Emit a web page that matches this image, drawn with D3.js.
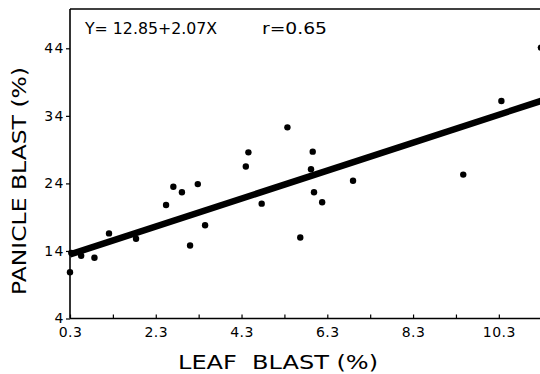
<!DOCTYPE html>
<html>
<head>
<meta charset="utf-8">
<script src="https://cdn.jsdelivr.net/npm/d3@7"></script>
<style>
  body { margin: 0; background: #fff; }
  svg { display: block; }
  text { font-family: "DejaVu Sans", "Liberation Sans", sans-serif; fill: #000; }
</style>
</head>
<body>
<div id="chart"></div>
<script>
// leaf blast (%) vs panicle blast (%)
var leafBlast    = [0.30, 0.33, 0.56, 0.87, 1.21, 1.84, 2.54, 2.71, 2.91, 3.10, 3.28, 3.45, 4.40,
                    4.46, 4.77, 5.37, 5.67, 5.92, 5.96, 5.99, 6.18, 6.90, 9.47, 10.36, 11.28];
var panicleBlast = [10.85, 13.7, 13.3, 13.0, 16.6, 15.8, 20.8, 23.5, 22.7, 14.8, 23.9, 17.8, 26.5,
                    28.6, 21.0, 32.3, 16.0, 26.1, 28.7, 22.7, 21.2, 24.4, 25.3, 36.2, 44.1];

var xTickLabels = ["0.3", "2.3", "4.3", "6.3", "8.3", "10.3"];
var xMinorTicks = [1.3, 3.3, 5.3, 7.3, 9.3, 11.3];
var yTickLabels = ["4", "14", "24", "34", "44"];

// regression Y = a + bX
var intercept = 12.85, slope = 2.07;
var equationText = "Y= 12.85+2.07X";
var rText = "r=0.65";

var width = 540, height = 374;

var svg = d3.select("#chart")
  .append("svg")
  .attr("width", width)
  .attr("height", height);

var x = d3.scaleLinear().domain([0.3, 11.26]).range([70, 540]);
var y = d3.scaleLinear().domain([4, 44]).range([318.5, 48.3]);

var xLeft = x(0.3), yBottom = y(4), yTop = 9;

// clip for the plot area
svg.append("clipPath").attr("id", "plotclip")
  .append("rect")
  .attr("x", xLeft).attr("y", yTop)
  .attr("width", width - xLeft).attr("height", yBottom - yTop);

// bottom axis: ticks point up (inside), labels every 2 units
var xAxis = d3.axisBottom(x)
  .tickValues(xTickLabels.map(Number).concat(xMinorTicks))
  .tickSize(-4)
  .tickFormat(d => xTickLabels.indexOf(String(d)) >= 0 ? String(d) : "");

var gx = svg.append("g")
  .attr("transform", `translate(0, ${yBottom})`)
  .call(xAxis);
gx.select(".domain").attr("stroke-width", 1.6).attr("d", `M${xLeft},0H${width}`);
gx.selectAll(".tick line").attr("stroke-width", 1.2);
gx.selectAll(".tick text")
  .attr("y", 6)
  .attr("dy", "0.9em")
  .style("font-size", "14px")
  .style("letter-spacing", "0.5px");

// left axis: ticks point out
var yAxis = d3.axisLeft(y)
  .tickValues(yTickLabels.map(Number))
  .tickSize(4)
  .tickFormat(d => String(d));

var gy = svg.append("g")
  .attr("transform", `translate(${xLeft}, 0)`)
  .call(yAxis);
gy.select(".domain").attr("stroke-width", 1.6).attr("d", `M0,${yTop}V${yBottom}`);
gy.selectAll(".tick line").attr("stroke-width", 1.2);
gy.selectAll(".tick text")
  .attr("x", -5)
  .style("font-size", "14px")
  .style("letter-spacing", "1.5px");

// top frame line
svg.append("line")
  .attr("x1", xLeft).attr("x2", width)
  .attr("y1", yTop).attr("y2", yTop)
  .attr("stroke", "#000").attr("stroke-width", 1.4);

var plot = svg.append("g").attr("clip-path", "url(#plotclip)");

// regression line
var xs = [0.3, 11.5];
plot.append("line")
  .attr("x1", x(xs[0])).attr("y1", y(intercept + slope * xs[0]))
  .attr("x2", x(xs[1])).attr("y2", y(intercept + slope * xs[1]))
  .attr("stroke", "#000")
  .attr("stroke-width", 6.5);

// points
var points = leafBlast.map((d, i) => ({ leaf: d, panicle: panicleBlast[i] }));
svg.append("g").selectAll("circle")
  .data(points)
  .enter()
  .append("circle")
  .attr("cx", d => x(d.leaf))
  .attr("cy", d => y(d.panicle))
  .attr("r", 3.2)
  .attr("fill", "#000");

// equation text
svg.append("text")
  .attr("x", 85).attr("y", 34)
  .attr("textLength", 132).attr("lengthAdjust", "spacingAndGlyphs")
  .style("font-size", "15px")
  .text(equationText);

svg.append("text")
  .attr("x", 262).attr("y", 34)
  .attr("textLength", 65).attr("lengthAdjust", "spacingAndGlyphs")
  .style("font-size", "15px")
  .text(rText);

// axis titles
svg.append("text")
  .attr("x", 178).attr("y", 369)
  .attr("textLength", 200).attr("lengthAdjust", "spacingAndGlyphs")
  .style("font-size", "20px")
  .attr("xml:space", "preserve")
  .text("LEAF  BLAST (%)");

svg.append("text")
  .attr("transform", "translate(26, 295) rotate(-90)")
  .attr("x", 0).attr("y", 0)
  .attr("textLength", 228).attr("lengthAdjust", "spacingAndGlyphs")
  .style("font-size", "20px")
  .text("PANICLE BLAST (%)");
</script>
</body>
</html>
